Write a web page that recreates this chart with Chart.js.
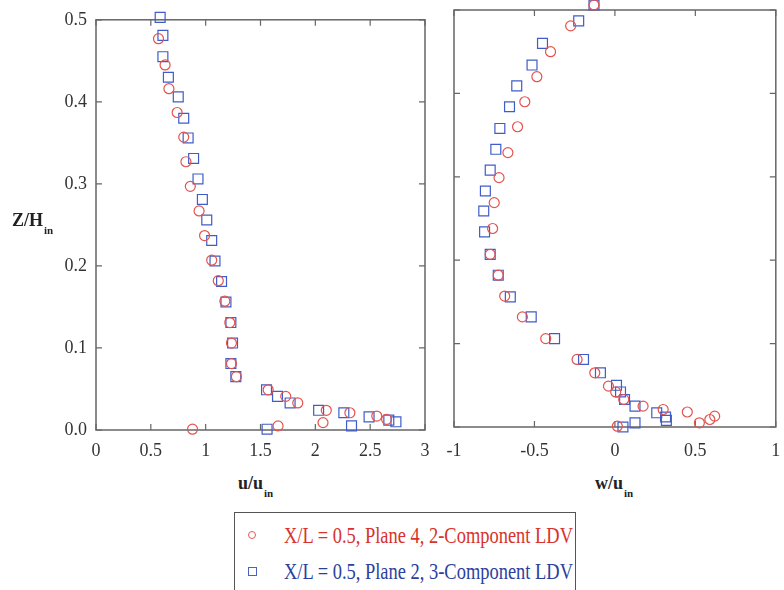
<!DOCTYPE html>
<html>
<head>
<meta charset="utf-8">
<script src="https://cdn.jsdelivr.net/npm/chart.js@4.4.1/dist/chart.umd.min.js"></script>
<style>
  body { margin: 0; background: #fff; width: 784px; height: 590px; overflow: hidden; position: relative; font-family: "Liberation Serif", "Times New Roman", serif; }
  canvas { position: absolute; top: 0; }
  #uChart { left: 0; }
  #wChart { left: 440px; }
  .title { position: absolute; font-weight: bold; font-size: 18px; line-height: 22px; color: #222; white-space: nowrap; }
  .title sub { font-size: 11px; vertical-align: -8px; margin-left: 1px; }
  #legend { position: absolute; left: 234px; top: 512px; width: 342px; height: 100px; border: 1px solid #555; box-sizing: border-box; }
  .row { position: absolute; left: 0; height: 26px; width: 100%; }
  .mark { position: absolute; left: 13px; top: 8px; width: 8px; height: 8px; box-sizing: border-box; }
  .mark.circle { border: 1px solid #e25a55; border-radius: 50%; }
  .mark.square { border: 1px solid #4a62c4; width: 9px; height: 9px; }
  .label { position: absolute; left: 49px; top: 0; font-size: 23px; line-height: 26px; white-space: nowrap; transform-origin: 0 50%; }
</style>
</head>
<body>
<canvas id="uChart" width="440" height="470"></canvas>
<canvas id="wChart" width="344" height="470"></canvas>

<div class="title" style="left:12px; top:209px;">Z/H<sub>in</sub></div>
<div class="title" style="left:238px; top:472px;">u/u<sub>in</sub></div>
<div class="title" style="left:595px; top:472px;">w/u<sub>in</sub></div>

<div id="legend">
  <div class="row" style="top:10px;"><span class="mark circle"></span><span class="label" style="color:#d8322c;">X/L = 0.5, Plane 4, 2-Component LDV</span></div>
  <div class="row" style="top:46px;"><span class="mark square"></span><span class="label" style="color:#2b3f9e;">X/L = 0.5, Plane 2, 3-Component LDV</span></div>
</div>

<script>
// axis ticks
const zTickValues = [0, 0.1, 0.2, 0.3, 0.4, 0.5];
const zTickLabels = ['0.0', '0.1', '0.2', '0.3', '0.4', '0.5'];
const uTickValues = [0, 0.5, 1, 1.5, 2, 2.5, 3];
const uTickLabels = ['0', '0.5', '1', '1.5', '2', '2.5', '3'];
const wTickValues = [-1, -0.5, 0, 0.5, 1];
const wTickLabels = ['-1', '-0.5', '0', '0.5', '1'];

// streamwise velocity, plane 4 (2-component LDV)
const uPlane4 = [0.57, 0.63, 0.665, 0.74, 0.80, 0.82, 0.86, 0.94, 0.99, 1.055, 1.115, 1.175, 1.22, 1.235, 1.235, 1.28, 1.57, 1.73, 1.84, 2.10, 2.315, 2.56, 2.65, 2.07, 1.66, 0.88];
const zPlane4u = [0.477, 0.445, 0.416, 0.387, 0.357, 0.327, 0.297, 0.267, 0.237, 0.207, 0.182, 0.157, 0.131, 0.106, 0.081, 0.065, 0.049, 0.041, 0.033, 0.024, 0.021, 0.017, 0.013, 0.009, 0.005, 0.001];

// streamwise velocity, plane 2 (3-component LDV)
const uPlane2 = [0.585, 0.61, 0.61, 0.66, 0.75, 0.80, 0.84, 0.89, 0.93, 0.97, 1.01, 1.055, 1.085, 1.145, 1.185, 1.23, 1.245, 1.23, 1.275, 1.555, 1.655, 1.77, 2.03, 2.26, 2.49, 2.67, 2.735, 2.33, 1.56];
const zPlane2u = [0.503, 0.481, 0.455, 0.430, 0.406, 0.380, 0.356, 0.331, 0.306, 0.281, 0.256, 0.231, 0.206, 0.181, 0.156, 0.131, 0.106, 0.081, 0.065, 0.049, 0.041, 0.033, 0.024, 0.021, 0.016, 0.012, 0.010, 0.005, 0.001];

// vertical velocity, plane 4
const wPlane4 = [-0.13, -0.275, -0.40, -0.485, -0.56, -0.605, -0.665, -0.72, -0.75, -0.76, -0.775, -0.725, -0.685, -0.575, -0.43, -0.235, -0.125, -0.04, 0.005, 0.055, 0.175, 0.30, 0.45, 0.62, 0.59, 0.525, 0.015];
const zPlane4w = [0.506, 0.481, 0.450, 0.420, 0.390, 0.360, 0.329, 0.299, 0.269, 0.238, 0.207, 0.182, 0.157, 0.132, 0.106, 0.081, 0.065, 0.049, 0.042, 0.033, 0.025, 0.021, 0.018, 0.013, 0.009, 0.005, 0.001];

// vertical velocity, plane 2
const wPlane2 = [-0.13, -0.225, -0.45, -0.515, -0.61, -0.655, -0.715, -0.74, -0.775, -0.805, -0.815, -0.81, -0.775, -0.725, -0.65, -0.52, -0.375, -0.195, -0.09, 0.01, 0.035, 0.06, 0.125, 0.26, 0.315, 0.32, 0.125, 0.05];
const zPlane2w = [0.506, 0.487, 0.460, 0.434, 0.409, 0.384, 0.358, 0.333, 0.308, 0.283, 0.259, 0.234, 0.207, 0.182, 0.156, 0.132, 0.106, 0.081, 0.065, 0.050, 0.042, 0.033, 0.025, 0.017, 0.012, 0.008, 0.005, 0.000];

const red = '#e4534f';
const blue = '#3f5cc8';
const tickFont = { family: '"Liberation Serif", "Times New Roman", serif', size: 18 };

function pairs(xs, ys) {
  return xs.map((x, i) => ({ x: x, y: ys[i] }));
}

// boxed frame with inward tick marks on all four sides
const frameTicks = {
  id: 'frameTicks',
  beforeDatasetsDraw(chart) {
    const { ctx, chartArea: a, scales } = chart;
    ctx.save();
    ctx.strokeStyle = '#666';
    ctx.lineWidth = 1.5;
    ctx.strokeRect(a.left, a.top, a.right - a.left, a.bottom - a.top);
    ctx.lineWidth = 1.2;
    ctx.beginPath();
    scales.x.ticks.forEach(t => {
      const px = scales.x.getPixelForValue(t.value);
      ctx.moveTo(px, a.bottom); ctx.lineTo(px, a.bottom - 6);
      ctx.moveTo(px, a.top); ctx.lineTo(px, a.top + 6);
    });
    scales.y.ticks.forEach(t => {
      const py = scales.y.getPixelForValue(t.value);
      ctx.moveTo(a.left, py); ctx.lineTo(a.left + 6, py);
      ctx.moveTo(a.right, py); ctx.lineTo(a.right - 6, py);
    });
    ctx.stroke();
    ctx.restore();
  }
};

function makePanel(id, d4, d2, xMin, xMax, xVals, xLabels, yLabels, layout) {
  return new Chart(document.getElementById(id).getContext('2d'), {
    type: 'scatter',
    data: {
      datasets: [{
        data: d4,
        pointStyle: 'circle',
        pointRadius: 5,
        borderColor: red,
        backgroundColor: 'transparent',
        borderWidth: 1.2,
        clip: false
      }, {
        data: d2,
        pointStyle: 'rect',
        pointRadius: 7,
        borderColor: blue,
        backgroundColor: 'transparent',
        borderWidth: 1.2,
        clip: false
      }]
    },
    options: {
      responsive: false,
      animation: false,
      layout: { padding: layout.padding },
      plugins: { legend: { display: false }, tooltip: { enabled: false } },
      scales: {
        x: {
          type: 'linear', min: xMin, max: xMax,
          grid: { display: false, drawTicks: false },
          border: { display: false },
          afterBuildTicks: s => { s.ticks = xVals.map(v => ({ value: v })); },
          afterFit: s => {
            s.height = layout.xHeight;
            // end labels may hang past the frame
            s.paddingLeft = 0;
            s.paddingRight = 0;
          },
          ticks: {
            font: tickFont, color: '#333', padding: layout.xPad, maxRotation: 0, autoSkip: false,
            callback: v => xLabels[xVals.indexOf(v)]
          }
        },
        y: {
          type: 'linear', min: 0, max: 0.5,
          grid: { display: false, drawTicks: false },
          border: { display: false },
          afterBuildTicks: s => { s.ticks = zTickValues.map(v => ({ value: v })); },
          afterFit: s => { s.width = layout.yWidth; },
          ticks: {
            display: yLabels, font: tickFont, color: '#333', padding: 9,
            callback: v => zTickLabels[zTickValues.indexOf(v)]
          }
        }
      }
    },
    plugins: [frameTicks]
  });
}

makePanel('uChart', pairs(uPlane4, zPlane4u), pairs(uPlane2, zPlane2u), 0, 3, uTickValues, uTickLabels, true,
  { padding: { top: 13, right: 15, left: 0, bottom: 0 }, xHeight: 40, yWidth: 96, xPad: 10 });
makePanel('wChart', pairs(wPlane4, zPlane4w), pairs(wPlane2, zPlane2w), -1, 1, wTickValues, wTickLabels, false,
  { padding: { top: 10, right: 1, left: 0, bottom: 0 }, xHeight: 43, yWidth: 14, xPad: 13 });

// squeeze legend text to its narrow type width
document.querySelectorAll('.label').forEach(el => {
  const w = el.getBoundingClientRect().width;
  el.style.transform = 'scaleX(' + (289 / w) + ')';
});
</script>
</body>
</html>
